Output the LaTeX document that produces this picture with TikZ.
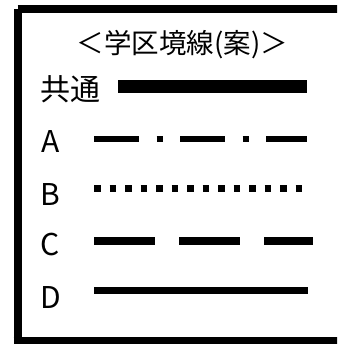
\documentclass[tikz,border=0pt]{standalone}
\usepackage{fontspec}
\setmainfont{Noto Sans CJK JP}
\begin{document}
\begin{tikzpicture}[x=1pt,y=-1pt,
  frame/.style={line width=8pt},
  titletext/.style={font=\fontsize{27.5}{33}\selectfont, anchor=base, inner sep=0pt},
  labeltext/.style={font=\fontsize{30}{36}\selectfont, anchor=base, inner sep=0pt},
  kyotsu/.style={line width=13pt},
  lineA/.style={line width=6pt, dash pattern=on 45pt off 17.5pt on 6pt off 17.5pt},
  lineB/.style={line width=7pt, dash pattern=on 6.5pt off 9pt},
  lineC/.style={line width=8pt, dash pattern=on 61pt off 24pt},
  lineD/.style={line width=7pt}]
\useasboundingbox (0,0) rectangle (337,344);
\clip (0,0) rectangle (337,344);
\draw[frame] (17.5,9.5) -- (345,9.5);
\draw[frame] (17.5,9.5) -- (17.5,341);
\draw[frame] (13.5,341) -- (345,341);
\node[titletext] (title) at (182.5,54) {＜学区境線(案)＞};
\node[labeltext] (lk) at (70.5,101) {共通};
\node[labeltext] (la) at (50.5,153) {A};
\node[labeltext] (lb) at (50.5,205) {B};
\node[labeltext] (lc) at (50.5,255) {C};
\node[labeltext] (ld) at (50.5,308) {D};
\coordinate (k1) at (118,86.5); \coordinate (k2) at (307,86.5);
\coordinate (a1) at (94,139); \coordinate (a2) at (307,139);
\coordinate (b1) at (94,188.5); \coordinate (b2) at (302,188.5);
\coordinate (c1) at (94,241); \coordinate (c2) at (313,241);
\coordinate (d1) at (94,290.5); \coordinate (d2) at (308,290.5);
\draw[kyotsu] (k1) -- (k2);
\draw[lineA] (a1) -- (a2);
\draw[lineB] (b1) -- (b2);
\draw[lineC] (c1) -- (c2);
\draw[lineD] (d1) -- (d2);
\end{tikzpicture}
\end{document}
